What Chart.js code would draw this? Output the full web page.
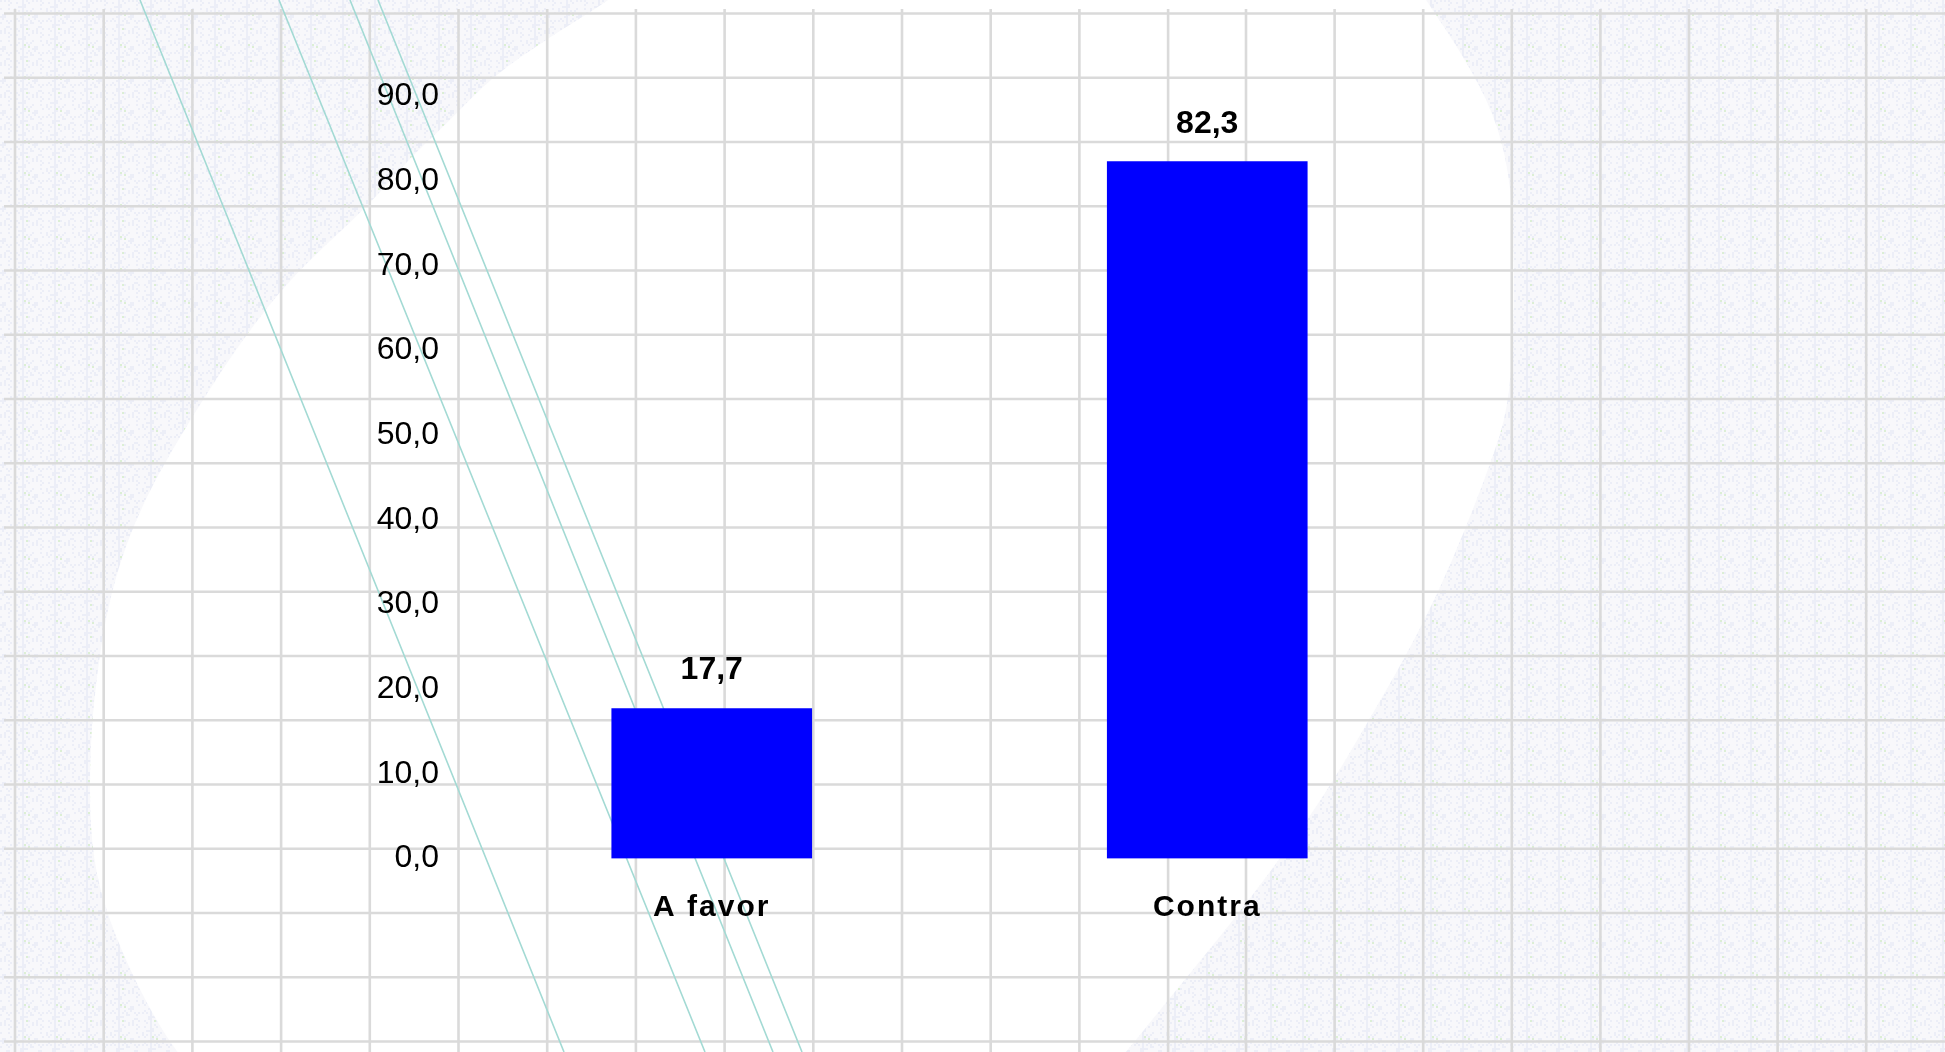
<!DOCTYPE html>
<html>
<head>
<meta charset="utf-8">
<title>A favor / Contra</title>
<script src="https://cdn.jsdelivr.net/npm/chart.js@4.4.1/dist/chart.umd.min.js"></script>
<style>
  html, body { margin: 0; padding: 0; overflow: hidden; background: #fff; }
  #wrap { position: relative; width: 1945px; height: 1052px; }
</style>
</head>
<body>
<div id="wrap"><canvas id="chart"></canvas></div>
<script>
// Data
const categories = ['A favor', 'Contra'];
const values = [17.7, 82.3];
const yTicks = [0, 10, 20, 30, 40, 50, 60, 70, 80, 90];

const FONT = '"Liberation Sans", Arial, Helvetica, sans-serif';
const fmt = v => v.toFixed(1).replace('.', ',');

// Speckled paper texture tile
function makeTile() {
    const tile = document.createElement('canvas');
    tile.width = tile.height = 32;
    const t = tile.getContext('2d');
    t.fillStyle = '#f8f8fb';
    t.fillRect(0, 0, 32, 32);
    for (let y = 0; y < 32; y += 2) {
        for (let x = 0; x < 32; x += 2) {
            const h = (x * 37 + y * 91 + x * y * 13) % 29;
            if (h < 7) {
                t.fillStyle = '#eceef7';
                t.fillRect(x, y, 2, 2);
            } else if (h === 11 && (x + y) % 6 === 0) {
                t.fillStyle = '#dcefd5';
                t.fillRect(x, y, 2, 2);
            }
        }
    }
    return tile;
}

// Outline of the white blob behind the chart
const blob = [
    [660, -40], [1400, -40], [1426, 0], [1464, 57], [1494, 114], [1509, 171], [1514, 240],
    [1514, 330], [1508, 410], [1490, 465], [1465, 530], [1438, 593], [1408, 652],
    [1372, 715], [1322, 800], [1250, 900], [1160, 1010], [1120, 1060], [1080, 1100],
    [220, 1100], [175, 1052], [138, 988], [108, 918], [93, 860], [89, 790], [93, 700],
    [110, 590], [143, 500], [196, 410], [242, 340], [292, 276], [367, 207], [408, 160],
    [448, 122], [492, 77], [548, 38], [610, 0], [660, -40]
];

// Diagonal teal strokes
const stripes = [[140, 564], [279, 705], [350, 773], [378, 802]];

const background = {
    id: 'background',
    beforeDraw(chart) {
        const ctx = chart.ctx;
        const w = chart.width, h = chart.height;
        ctx.save();
        ctx.fillStyle = ctx.createPattern(makeTile(), 'repeat');
        ctx.fillRect(0, 0, w, h);

        // white blob
        ctx.beginPath();
        ctx.moveTo(blob[0][0], blob[0][1]);
        for (let i = 1; i < blob.length - 1; i++) {
            const mx = (blob[i][0] + blob[i + 1][0]) / 2;
            const my = (blob[i][1] + blob[i + 1][1]) / 2;
            ctx.quadraticCurveTo(blob[i][0], blob[i][1], mx, my);
        }
        ctx.closePath();
        ctx.fillStyle = '#ffffff';
        ctx.fill();

        // grid paper lines
        ctx.strokeStyle = '#dadada';
        ctx.lineWidth = 2.6;
        ctx.beginPath();
        for (let k = 0; k < 14; k++) {
            const x = 15 + 88.7 * k;
            ctx.moveTo(x, 9); ctx.lineTo(x, h);
        }
        for (let k = 0; k < 8; k++) {
            const x = 1246 + 88.6 * k;
            ctx.moveTo(x, 9); ctx.lineTo(x, h);
        }
        for (let k = 0; k < 17; k++) {
            const y = 13.5 + 64.25 * k;
            ctx.moveTo(4, y); ctx.lineTo(w, y);
        }
        ctx.stroke();

        // teal strokes
        ctx.strokeStyle = '#a3dad4';
        ctx.lineWidth = 1.6;
        ctx.beginPath();
        stripes.forEach(([x0, x1]) => {
            ctx.moveTo(x0, 0);
            ctx.lineTo(x1, h);
        });
        ctx.stroke();
        ctx.restore();
    }
};

// Value labels above the bars
const valueLabels = {
    id: 'valueLabels',
    afterDatasetsDraw(chart) {
        const ctx = chart.ctx;
        const meta = chart.getDatasetMeta(0);
        ctx.save();
        ctx.font = 'bold 32px ' + FONT;
        ctx.fillStyle = '#000';
        ctx.textAlign = 'center';
        ctx.textBaseline = 'middle';
        meta.data.forEach((bar, i) => {
            ctx.fillText(fmt(values[i]), bar.x, bar.y - 38);
        });
        ctx.restore();
    }
};

// Slightly spaced category labels
const spacedLabels = {
    id: 'spacedLabels',
    beforeDraw(chart) {
        const xs = chart.scales.x;
        if (xs._spaced) return;
        const draw = xs.drawLabels;
        xs.drawLabels = function (area) {
            this.ctx.save();
            this.ctx.letterSpacing = '2px';
            draw.call(this, area);
            this.ctx.restore();
        };
        xs._spaced = true;
    }
};

new Chart(document.getElementById('chart'), {
    type: 'bar',
    data: {
        labels: categories,
        datasets: [{
            data: values,
            backgroundColor: '#0000ff',
            borderWidth: 0,
            barThickness: 200
        }]
    },
    options: {
        responsive: true,
        maintainAspectRatio: false,
        animation: false,
        layout: { padding: { top: 96.5, right: 490, bottom: 0, left: 0 } },
        plugins: {
            legend: { display: false },
            tooltip: { enabled: false }
        },
        scales: {
            x: {
                grid: { display: false, drawTicks: false },
                border: { display: false },
                ticks: {
                    color: '#000',
                    padding: 31,
                    maxRotation: 0,
                    autoSkip: false,
                    font: { family: FONT, size: 30, weight: 'bold' }
                },
                afterFit: s => { s.height = 193.5; }
            },
            y: {
                min: yTicks[0],
                max: yTicks[yTicks.length - 1],
                grid: { display: false, drawTicks: false },
                border: { display: false },
                ticks: {
                    color: '#000',
                    padding: 25,
                    font: { family: FONT, size: 32 },
                    callback: v => fmt(v)
                },
                afterBuildTicks: s => { s.ticks = yTicks.map(v => ({ value: v })); },
                afterFit: s => { s.width = 464; }
            }
        }
    },
    plugins: [background, valueLabels, spacedLabels]
});
</script>
</body>
</html>
